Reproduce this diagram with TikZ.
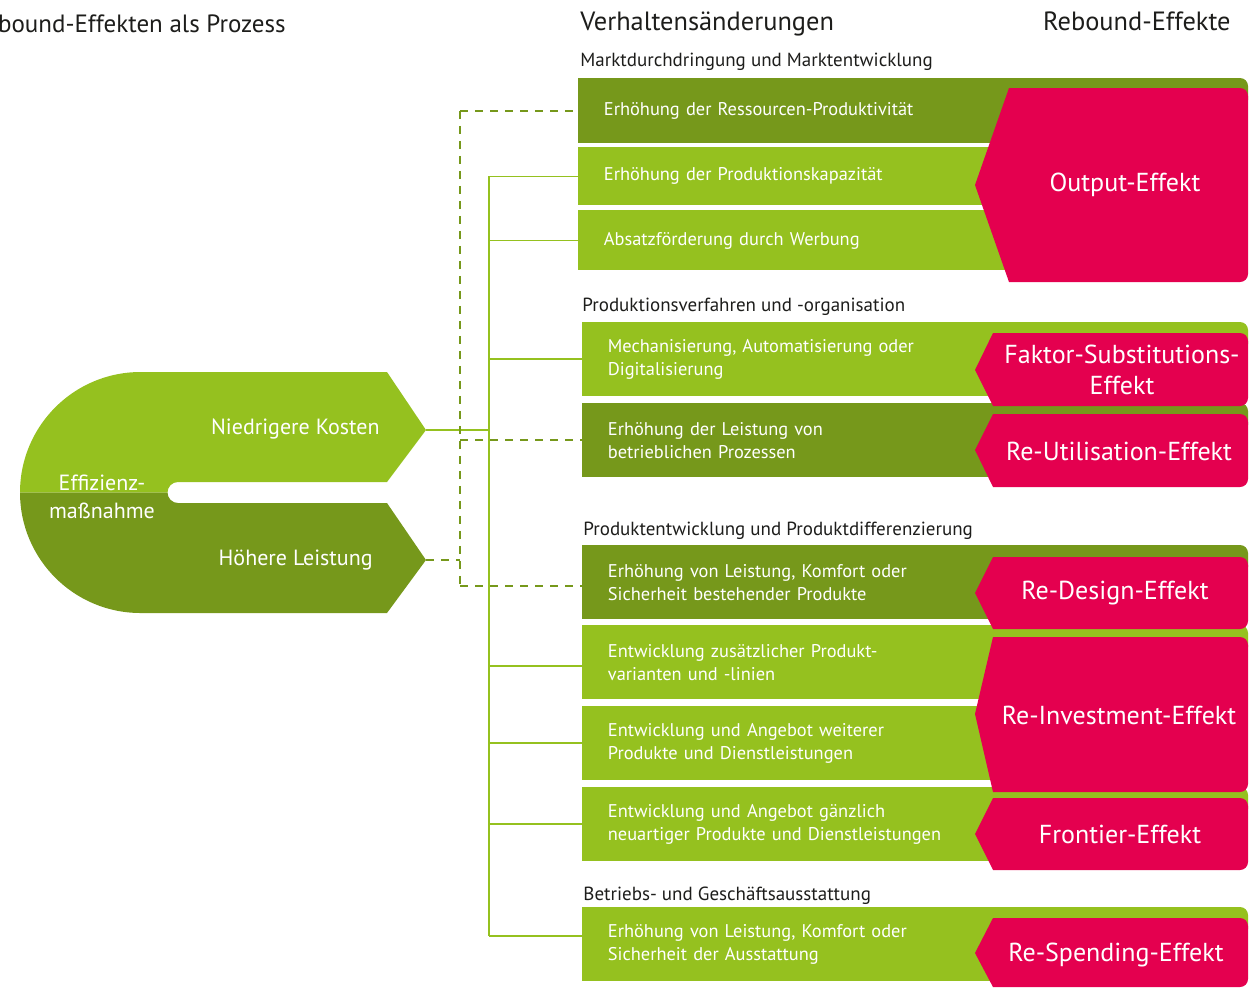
\documentclass[tikz,border=0pt]{standalone}
\usepackage{fontspec}
\setmainfont{PT Sans}
\usetikzlibrary{positioning}
\definecolor{ltgreen}{HTML}{95C11F}
\definecolor{dkgreen}{HTML}{76981B}
\definecolor{effred}{HTML}{E4004F}
\definecolor{ink}{HTML}{1D1D1B}

\begin{document}
\begin{tikzpicture}[x=0.5pt,y=-0.5pt,
	bar/.style={anchor=north west,inner xsep=12.75pt,inner ysep=0pt,text width=284.5pt,align=left,
		text=white,font=\fontsize{9.2}{11.5}\selectfont,minimum height=36.75pt},
	effect/.style={fill=effred},
	efftext/.style={text=white,font=\fontsize{13}{15.5}\selectfont,align=center},
	group/.style={anchor=west,inner sep=0pt,text=ink,font=\fontsize{9.5}{11}\selectfont},
	head/.style={inner sep=0pt,text=ink,font=\fontsize{13.2}{15}\selectfont},
	lobe/.style={inner sep=0pt,text=white,font=\fontsize{11}{14}\selectfont},
	link/.style={ltgreen,line width=0.75pt},
	dlink/.style={dkgreen,line width=0.75pt,dash pattern=on 4pt off 3.5pt}]

\useasboundingbox (0,0) rectangle (1249,987);

\node[head,anchor=base east,font=\fontsize{12.5}{15}\selectfont] (title) at (286,32) {bound-Effekten als Prozess};
\node[head,anchor=base west]   (verh)    at (580,30)   {Verhaltensänderungen};
\node[head,anchor=base east]   (rebound) at (1231,30)  {Rebound-Effekte};

% Effizienzmassnahme
\fill[ltgreen] (387,372) -- (426,430) -- (387,482) -- (178,482) arc[start angle=90,end angle=180,radius=5.25pt]
	-- (20,492.5) arc[start angle=180,end angle=90,radius=60.25pt] -- cycle;
\fill[dkgreen] (387,613) -- (426,560) -- (387,503) -- (178,503) arc[start angle=270,end angle=180,radius=5.25pt]
	-- (20,492.5) arc[start angle=180,end angle=270,radius=60.25pt] -- cycle;
\coordinate (kosten)  at (426,430);
\coordinate (hoeher)  at (426,560);
\coordinate (trunk)   at (489,0);
\coordinate (dtrunk)  at (460,0);
\node[lobe,align=center]  (massn)   at (102,497)  {Effizienz-\\maßnahme};
\node[lobe,anchor=east]   (kost-l)  at (380,429)  {Niedrigere Kosten};
\node[lobe,anchor=east]   (leist-l) at (373,560)  {Höhere Leistung};

\node[group] (g1) at (580,62)  {Marktdurchdringung und Marktentwicklung};
\node[group] (g2) at (582,307) {Produktionsverfahren und -organisation};
\node[group] (g3) at (583,531) {Produktentwicklung und Produktdifferenzierung};
\node[group] (g4) at (583,896) {Betriebs- und Geschäftsausstattung};

\node[bar,fill=dkgreen,minimum height=32.5pt] (b1) at (578,78)  {Erhöhung der Ressourcen-Produktivität};
\node[bar,fill=ltgreen,minimum height=29pt]   (b2) at (578,147) {Erhöhung der Produktionskapazität};
\node[bar,fill=ltgreen,minimum height=30pt]   (b3) at (578,210) {Absatzförderung durch Werbung};
\node[bar,fill=ltgreen]  (b4)  at (582,322) {Mechanisierung, Automatisierung oder\\Digitalisierung};
\node[bar,fill=dkgreen]  (b5)  at (582,403) {Erhöhung der Leistung von\\betrieblichen Prozessen};
\node[bar,fill=dkgreen]  (b6)  at (582,545) {Erhöhung von Leistung, Komfort oder\\Sicherheit bestehender Produkte};
\node[bar,fill=ltgreen]  (b7)  at (582,625) {Entwicklung zusätzlicher Produkt-\\varianten und -linien};
\node[bar,fill=ltgreen]  (b8)  at (582,706) {Entwicklung und Angebot weiterer\\Produkte und Dienstleistungen};
\node[bar,fill=ltgreen]  (b9)  at (582,787) {Entwicklung und Angebot gänzlich\\neuartiger Produkte und Dienstleistungen};
\node[bar,fill=ltgreen]  (b10) at (582,907) {Erhöhung von Leistung, Komfort oder\\Sicherheit der Ausstattung};

\foreach \t/\c in {78/dkgreen,322/ltgreen,403/dkgreen,545/dkgreen,625/ltgreen,787/ltgreen,907/ltgreen}
	\fill[\c,rounded corners=4pt] (1150,\t) rectangle (1248,{\t+30});

% Rebound-Effekte
\fill[effect] (1009,88) [rounded corners=4pt] -- (1248,88) -- (1248,282) [sharp corners] -- (1009,282) -- (975,185) -- cycle;
\fill[effect] (993,333) [rounded corners=4pt] -- (1248,333) -- (1248,406) [sharp corners] -- (993,406) -- (975,370) -- cycle;
\fill[effect] (993,414) [rounded corners=4pt] -- (1248,414) -- (1248,487) [sharp corners] -- (993,487) -- (975,450) -- cycle;
\fill[effect] (993,557) [rounded corners=4pt] -- (1248,557) -- (1248,629) [sharp corners] -- (993,629) -- (975,593) -- cycle;
\fill[effect] (993,637) [rounded corners=4pt] -- (1248,637) -- (1248,792) [sharp corners] -- (993,792) -- (975,714) -- cycle;
\fill[effect] (993,798) [rounded corners=4pt] -- (1248,798) -- (1248,870) [sharp corners] -- (993,870) -- (975,834) -- cycle;
\fill[effect] (993,918) [rounded corners=4pt] -- (1248,918) -- (1248,987) [sharp corners] -- (993,987) -- (975,953) -- cycle;

\node[efftext] (output)   at (1125,185) {Output-Effekt};
\node[efftext] (faktor)   at (1122,370) {Faktor-Substitutions-\\Effekt};
\node[efftext] (reutil)   at (1119,451) {Re-Utilisation-Effekt};
\node[efftext] (redesign) at (1115,593) {Re-Design-Effekt};
\node[efftext] (reinvest) at (1119,715) {Re-Investment-Effekt};
\node[efftext] (frontier) at (1120,834) {Frontier-Effekt};
\node[efftext] (respend)  at (1116,955) {Re-Spending-Effekt};

% Verbindungen
\draw[link] (kosten) -- (kosten -| trunk);
\draw[link] (b2.west -| trunk) -- ([yshift=4pt]b10.west -| trunk);
\foreach \b in {b2,b3,b4,b8,b9}
	\draw[link] (\b.west -| trunk) -- (\b.west);
\draw[link] ([yshift=-2pt]b7.west -| trunk) -- ([yshift=-2pt]b7.west);
\draw[link] ([yshift=4pt]b10.west -| trunk) -- ([yshift=4pt]b10.west);

\draw[dlink] (hoeher) -- (hoeher -| dtrunk);
\draw[dlink] (b1.west -| dtrunk) -- ([yshift=-2pt]b6.west -| dtrunk);
\draw[dlink] (b1.west -| dtrunk) -- (b1.west);
\draw[dlink] (b5.west -| dtrunk) -- (b5.west);
\draw[dlink] ([yshift=-2pt]b6.west -| dtrunk) -- ([yshift=-2pt]b6.west);

\end{tikzpicture}
\end{document}
